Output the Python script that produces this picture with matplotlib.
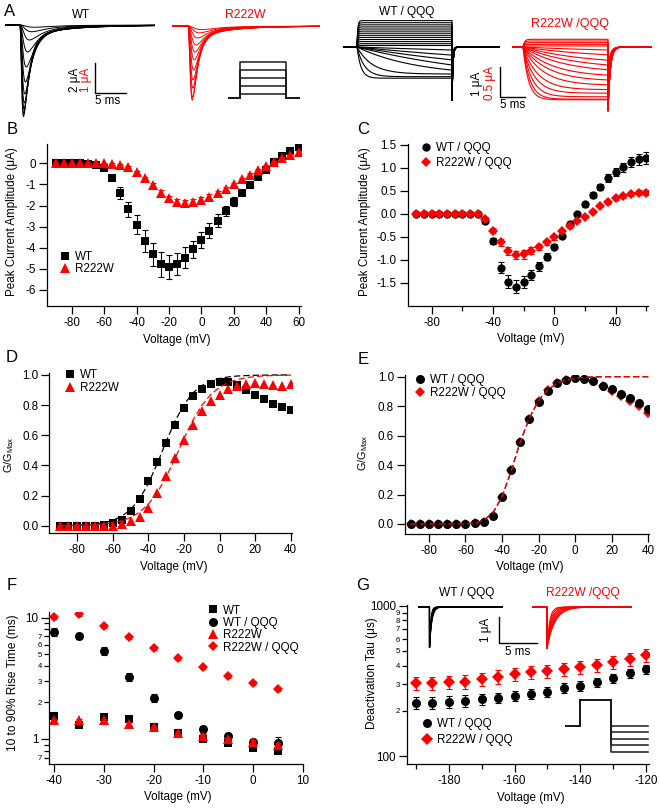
import numpy as np
import matplotlib
matplotlib.use("Agg")
import matplotlib.pyplot as plt
from matplotlib.ticker import FixedLocator, FixedFormatter

plt.rcParams['font.family'] = ['Liberation Sans', 'DejaVu Sans']
plt.rcParams['mathtext.default'] = 'regular'
plt.rcParams['axes.unicode_minus'] = False
plt.rcParams['axes.linewidth'] = 0.9

W, H = 660, 808
RED = '#ff0000'
FS = 8.4

# ---------------- data ----------------
# B / C: peak current amplitude (uA)
iv_voltage = [-90, -85, -80, -75, -70, -65, -60, -55, -50, -45, -40, -35, -30, -25, -20,
              -15, -10, -5, 0, 5, 10, 15, 20, 25, 30, 35, 40, 45, 50, 55, 60]
wt_peak = [0.0, 0.0, 0.0, 0.0, -0.03, -0.08, -0.24, -0.70, -1.39, -2.18, -2.92, -3.68, -4.31,
           -4.79, -4.90, -4.77, -4.47, -4.08, -3.65, -3.19, -2.73, -2.26, -1.82, -1.42, -1.03,
           -0.66, -0.32, 0.08, 0.36, 0.58, 0.77]
wt_peak_err = [0.02, 0.02, 0.02, 0.02, 0.03, 0.05, 0.08, 0.15, 0.28, 0.37, 0.45, 0.53, 0.55,
               0.59, 0.57, 0.54, 0.49, 0.41, 0.38, 0.36, 0.31, 0.26, 0.20, 0.15, 0.12, 0.10,
               0.08, 0.08, 0.10, 0.12, 0.14]
r222w_peak = [0.0, 0.0, 0.0, 0.0, 0.0, 0.0, 0.0, -0.03, -0.08, -0.19, -0.43, -0.71, -1.03,
              -1.39, -1.66, -1.82, -1.86, -1.82, -1.74, -1.58, -1.42, -1.22, -1.00, -0.76,
              -0.55, -0.32, -0.11, 0.08, 0.24, 0.39, 0.52]
r222w_peak_err = [0.02, 0.02, 0.02, 0.02, 0.02, 0.02, 0.02, 0.03, 0.04, 0.05, 0.06, 0.08, 0.10,
                  0.12, 0.13, 0.14, 0.14, 0.14, 0.13, 0.12, 0.11, 0.10, 0.09, 0.08, 0.07, 0.06,
                  0.05, 0.05, 0.05, 0.05, 0.05]
wtqqq_peak = [0.0, 0.0, 0.0, 0.0, 0.0, 0.0, 0.0, 0.0, 0.0, -0.15, -0.59, -1.17, -1.47, -1.58,
              -1.47, -1.33, -1.14, -0.93, -0.71, -0.48, -0.22, 0.0, 0.21, 0.41, 0.59, 0.78,
              0.91, 1.01, 1.12, 1.19, 1.22]
wtqqq_peak_err = [0.01, 0.01, 0.01, 0.01, 0.01, 0.01, 0.01, 0.01, 0.01, 0.04, 0.07, 0.12, 0.14,
                  0.14, 0.13, 0.11, 0.09, 0.08, 0.06, 0.05, 0.05, 0.05, 0.05, 0.06, 0.07, 0.08,
                  0.09, 0.10, 0.11, 0.12, 0.13]
rqqq_peak = [0.0, 0.0, 0.0, 0.0, 0.0, 0.0, 0.0, 0.0, 0.0, -0.11, -0.36, -0.62, -0.80, -0.89,
             -0.88, -0.80, -0.72, -0.62, -0.51, -0.38, -0.26, -0.15, -0.06, 0.05, 0.18, 0.25,
             0.34, 0.39, 0.43, 0.46, 0.46]
rqqq_peak_err = [0.01, 0.01, 0.01, 0.01, 0.01, 0.01, 0.01, 0.01, 0.01, 0.04, 0.06, 0.08, 0.09,
                 0.09, 0.09, 0.08, 0.07, 0.06, 0.05, 0.04, 0.04, 0.03, 0.03, 0.03, 0.03, 0.03,
                 0.04, 0.04, 0.04, 0.05, 0.05]

# D / E: normalised conductance
gv_voltage = [-90, -85, -80, -75, -70, -65, -60, -55, -50, -45, -40, -35, -30, -25, -20,
              -15, -10, -5, 0, 5, 10, 15, 20, 25, 30, 35, 40]
wt_g = [0.0, 0.0, 0.0, 0.0, 0.0, 0.003, 0.015, 0.04, 0.10, 0.18, 0.30, 0.42, 0.55, 0.67,
        0.78, 0.86, 0.91, 0.94, 0.95, 0.95, 0.935, 0.90, 0.87, 0.84, 0.81, 0.785, 0.77]
wt_g_fit = [0.001, 0.002, 0.0035, 0.006, 0.011, 0.020, 0.036, 0.063, 0.107, 0.178, 0.281,
            0.413, 0.559, 0.695, 0.804, 0.881, 0.930, 0.960, 0.977, 0.987, 0.993, 0.996,
            0.998, 0.999, 1.0, 1.0, 1.0]
r222w_g = [0.0, 0.0, 0.0, 0.0, 0.0, 0.0, 0.0, 0.01, 0.03, 0.06, 0.12, 0.22, 0.33, 0.45,
           0.57, 0.67, 0.76, 0.83, 0.87, 0.91, 0.93, 0.94, 0.945, 0.94, 0.935, 0.925, 0.94]
r222w_g_fit = [0.0009, 0.0015, 0.0025, 0.0042, 0.007, 0.012, 0.020, 0.033, 0.055, 0.090,
               0.143, 0.220, 0.324, 0.448, 0.578, 0.699, 0.797, 0.870, 0.918, 0.950, 0.970,
               0.982, 0.989, 0.994, 0.996, 0.998, 0.999]
wtqqq_g = [0.0, 0.0, 0.0, 0.0, 0.0, 0.0, 0.0, 0.005, 0.015, 0.055, 0.185, 0.365, 0.56, 0.71,
           0.83, 0.905, 0.955, 0.98, 0.99, 0.985, 0.97, 0.94, 0.915, 0.885, 0.855, 0.82, 0.78]
rqqq_g = [0.0, 0.0, 0.0, 0.0, 0.0, 0.0, 0.0, 0.005, 0.015, 0.055, 0.18, 0.365, 0.56, 0.715,
          0.835, 0.91, 0.96, 0.98, 0.99, 0.985, 0.97, 0.935, 0.905, 0.87, 0.835, 0.80, 0.755]
qqq_g_fit = [0.0, 0.0, 0.0, 0.0, 0.0, 0.0, 0.001, 0.005, 0.025, 0.075, 0.185, 0.36, 0.56,
             0.72, 0.84, 0.91, 0.955, 0.977, 0.99, 0.995, 0.998, 1.0, 1.0, 1.0, 1.0, 1.0, 1.0]

# F: 10-90% rise time (ms)
rise_voltage = [-40, -35, -30, -25, -20, -15, -10, -5, 0, 5]
rise_wt = [1.56, 1.30, 1.51, 1.45, 1.26, 1.11, 1.00, 0.92, 0.85, 0.80]
rise_wt_err = [0.12, 0.06, 0.07, 0.06, 0.04, 0.04, 0.04, 0.03, 0.03, 0.03]
rise_wtqqq = [7.67, 7.06, 5.31, 3.26, 2.17, 1.58, 1.20, 1.06, 0.95, 0.93]
rise_wtqqq_err = [0.60, 0.45, 0.40, 0.25, 0.17, 0.10, 0.07, 0.06, 0.05, 0.10]
rise_r222w = [1.43, 1.43, 1.42, 1.33, 1.25, 1.13, 1.06, 0.99, 0.95, 0.90]
rise_r222w_err = [0.04, 0.04, 0.04, 0.04, 0.04, 0.03, 0.03, 0.03, 0.03, 0.03]
rise_rqqq = [10.2, 10.7, 8.55, 6.97, 5.6, 4.62, 3.9, 3.28, 2.89, 2.57]
rise_rqqq_err = [0.4, 0.4, 0.3, 0.25, 0.2, 0.15, 0.12, 0.1, 0.09, 0.08]

# G: deactivation tau (us)
deact_voltage = [-190, -185, -180, -175, -170, -165, -160, -155, -150, -145, -140, -135,
                 -130, -125, -120]
deact_wtqqq = [226, 226, 230, 233, 238, 244, 251, 258, 268, 285, 294, 309, 329, 355, 377]
deact_wtqqq_err = [20, 20, 20, 20, 20, 20, 20, 20, 21, 22, 22, 23, 24, 25, 26]
deact_rqqq = [307, 305, 309, 312, 325, 337, 351, 360, 368, 379, 389, 403, 424, 444, 470]
deact_rqqq_err = [30, 30, 31, 32, 33, 34, 35, 36, 37, 38, 39, 40, 42, 44, 46]

# A: example sodium current families (peak uA, activation / inactivation time constants ms)
wt_na_amp = [6.1, 5.9, 5.6, 5.2, 4.6, 3.8, 2.8, 1.8, 1.0, 0.45, 0.15]
wt_na_tm = [0.22, 0.24, 0.26, 0.28, 0.31, 0.35, 0.40, 0.48, 0.60, 0.75, 0.90]
wt_na_th = [0.90, 0.95, 1.00, 1.05, 1.15, 1.30, 1.50, 1.80, 2.20, 2.70, 3.20]
r_na_amp = [2.47, 2.37, 2.07, 1.80, 1.47, 1.13, 0.87, 0.63, 0.40, 0.23, 0.12]
r_na_tm = [0.30, 0.32, 0.34, 0.36, 0.40, 0.45, 0.50, 0.58, 0.68, 0.80, 0.95]
r_na_th = [0.80, 0.85, 0.90, 0.95, 1.05, 1.15, 1.30, 1.50, 1.80, 2.20, 2.60]
step_levels_mV = [-90, -70, -50, -30, -10]
# A right: QQQ families (current at end of step uA, activation tau ms, tail uA)
wtqqq_end = [0.88, 0.81, 0.74, 0.67, 0.60, 0.53, 0.46, 0.39, 0.32, 0.25, 0.18, 0.11, 0.05,
             -0.10, -0.27, -0.43, -0.60, -0.77, -0.90, -0.99, -1.04]
wtqqq_tau = [0.15, 0.15, 0.15, 0.15, 0.15, 0.15, 0.15, 0.15, 0.15, 0.15, 0.15, 0.15, 0.15,
             60, 50, 40, 30, 12, 3, 1.5, 0.8]
wtqqq_tail = [-1.83, -1.83, -1.83, -1.83, -1.83, -1.83, -1.83, -1.83, -1.83, -1.83, -1.83,
              -1.83, -1.83, -0.6, -0.8, -1.0, -1.2, -1.45, -1.65, -1.78, -1.83]
rqqq_end = [0.128, 0.10, 0.072, 0.044, 0.017, -0.05, -0.13, -0.22, -0.30, -0.38, -0.47,
            -0.55, -0.63, -0.71, -0.77, -0.83, -0.87, -0.88]
rqqq_tau = [0.3, 0.3, 0.3, 0.3, 0.3, 20, 15, 12, 10, 8, 6, 5, 4, 3, 2.3, 1.8, 1.4, 1.1]
rqqq_tail = [-1.08, -1.08, -1.08, -1.08, -1.08, -0.35, -0.45, -0.55, -0.62, -0.70, -0.77,
             -0.83, -0.88, -0.93, -0.97, -1.00, -1.04, -1.08]
# G insets: tail current time constants (ms)
inset_wt_tau = [0.16, 0.18, 0.20, 0.22, 0.24, 0.26, 0.28, 0.30]
inset_r_tau = [0.35, 0.45, 0.55, 0.65, 0.75, 0.85, 0.95, 1.05]
inset_tail_amp = 1.58
tail_levels_mV = [-120, -137.5, -155, -172.5, -190]

# ---------------- helpers ----------------
fig = plt.figure(figsize=(6.6, 8.08), dpi=100)


def add_ax(x0, y0, x1, y1):
    return fig.add_axes([x0 / W, 1 - y1 / H, (x1 - x0) / W, (y1 - y0) / H])


def ftext(x, y, s, **kw):
    kw.setdefault('ha', 'center')
    kw.setdefault('va', 'center')
    kw.setdefault('fontsize', FS)
    fig.text(x / W, 1 - y / H, s, **kw)


def igor_axes(ax):
    ax.spines['top'].set_visible(False)
    ax.spines['right'].set_visible(False)
    ax.tick_params(which='major', direction='out', length=5.5, width=0.9, labelsize=FS, pad=2.5)
    ax.tick_params(which='minor', direction='out', length=3.5, width=0.9)
    ax.patch.set_alpha(0)


def trace_axes(x0, y0, x1, y1, xlim, ylim):
    ax = add_ax(x0, y0, x1, y1)
    ax.set_xlim(xlim)
    ax.set_ylim(ylim)
    ax.axis('off')
    return ax


def series(ax, x, y, err, marker, color, ms, label, z):
    if err is not None:
        ax.errorbar(x, y, yerr=err, fmt='none', ecolor=color, elinewidth=0.8,
                    capsize=2, capthick=0.8, zorder=z)
    ax.plot(x, y, linestyle='none', marker=marker, color=color, markersize=ms,
            markeredgewidth=0, label=label, zorder=z + 0.5)


def legend_at(ax, x, y, spacing):
    ax.legend(loc='upper left', bbox_to_anchor=(x / W, 1 - y / H), bbox_transform=fig.transFigure,
              frameon=False, fontsize=FS, handlelength=1.0, handletextpad=0.35, borderpad=0,
              borderaxespad=0, labelspacing=spacing, numpoints=1)


def na_current(t, t0, amp, tm, th):
    s = np.clip(t - t0, 0, None)
    f = (1 - np.exp(-s / tm)) ** 3 * (0.93 * np.exp(-s / th) + 0.07 * np.exp(-s / (6 * th)))
    return -amp * f / f.max()


def qqq_current(t, ton, toff, end_level, tau, tail, tail_tau):
    amp = end_level / (1 - np.exp(-(toff - ton) / tau))
    i = np.zeros_like(t)
    on = (t >= ton) & (t < toff)
    i[on] = amp * (1 - np.exp(-(t[on] - ton) / tau))
    off = t >= toff
    i[off] = tail * np.exp(-(t[off] - toff) / tail_tau)
    return i


def tail_current(t, ton, amp, tau):
    return np.where(t < ton, 0.0, -amp * np.exp(-(t - ton) / tau))


# ---------------- A ----------------
ftext(10, 11, 'A', fontsize=12)
ftext(81, 15, 'WT')
ftext(245, 15, 'R222W', color=RED, fontsize=8.8)
ftext(407, 12, 'WT / QQQ', fontsize=8.6)
ftext(570, 24, 'R222W /QQQ', color=RED, fontsize=9)

axA1 = trace_axes(5, 18, 155, 120, (0, 24.2), (-6.333, 0.467))
t = np.linspace(0, 24.2, 2000)
for amp, tm, th in zip(wt_na_amp, wt_na_tm, wt_na_th):
    axA1.plot(t, na_current(t, 2.4, amp, tm, th), color='k', lw=0.7)
axA1.plot([14.52, 14.52, 19.52], [-2.533, -4.533, -4.533], color='k', lw=1.0, clip_on=False)

axA2 = trace_axes(172, 18, 320, 120, (0, 24.0), (-3.133, 0.267))
t = np.linspace(0, 24.0, 2000)
for amp, tm, th in zip(r_na_amp, r_na_tm, r_na_th):
    axA2.plot(t, na_current(t, 2.6, amp, tm, th), color=RED, lw=0.7)

ftext(75, 80, '2 μA', rotation=90)
ftext(85.5, 80, '1 μA', rotation=90, color=RED)
ftext(108, 101, '5 ms')

axA3 = trace_axes(228, 58, 300, 102, (0, 72), (-110, 0))
for v in step_levels_mV:
    axA3.plot([0, 12, 12, 58, 58, 72], [-100, -100, v, v, -100, -100], color='#1a1a1a', lw=1.1)

axA4 = trace_axes(343, 15, 500, 112, (0, 31.4), (-2.167, 1.067))
t = np.linspace(0, 31.4, 4000)
for e, tau, tl in zip(wtqqq_end, wtqqq_tau, wtqqq_tail):
    axA4.plot(t, qqq_current(t, 2.8, 21.8, e, tau, tl, 0.18), color='k', lw=0.8)
axA4.plot([31.4, 31.4, 36.4], [-0.667, -1.667, -1.667], color='k', lw=1.0, clip_on=False)

axA5 = trace_axes(512, 15, 652, 120, (0, 28), (-1.217, 0.533))
t = np.linspace(0, 28, 4000)
for e, tau, tl in zip(rqqq_end, rqqq_tau, rqqq_tail):
    axA5.plot(t, qqq_current(t, 2.2, 19.2, e, tau, tl, 0.45), color=RED, lw=0.8)

ftext(477, 84, '1 μA', rotation=90)
ftext(490, 83, '0.5 μA', rotation=90, color=RED)
ftext(513, 105, '5 ms')

# ---------------- B ----------------
ftext(12, 130, 'B', fontsize=12)
axB = add_ax(47, 144.3, 300.5, 306)
igor_axes(axB)
series(axB, iv_voltage, wt_peak, wt_peak_err, 's', 'k', 5.6, 'WT', 2)
series(axB, iv_voltage, r222w_peak, r222w_peak_err, '^', RED, 6.8, 'R222W', 3)
axB.set_xlim(-95.25, 61.2)
axB.set_ylim(-6.76, 0.9)
axB.xaxis.set_major_locator(FixedLocator([-80, -60, -40, -20, 0, 20, 40, 60]))
axB.yaxis.set_major_locator(FixedLocator([-6, -5, -4, -3, -2, -1, 0]))
legend_at(axB, 59.2, 251.5, 0.0)
ftext(12.5, 222, 'Peak Current Amplitude (μA)', rotation=90)
ftext(177, 340, 'Voltage (mV)')

# ---------------- C ----------------
ftext(363, 130, 'C', fontsize=12)
axC = add_ax(407.7, 144.3, 648, 306)
igor_axes(axC)
series(axC, iv_voltage, wtqqq_peak, wtqqq_peak_err, 'o', 'k', 6.0, 'WT / QQQ', 2)
series(axC, iv_voltage, rqqq_peak, rqqq_peak_err, 'D', RED, 5.0, 'R222W / QQQ', 3)
axC.set_xlim(-95.7, 61.1)
axC.set_ylim(-2.0, 1.514)
axC.xaxis.set_major_locator(FixedLocator([-80, -40, 0, 40]))
axC.xaxis.set_minor_locator(FixedLocator([-60, -20, 20, 60]))
axC.yaxis.set_major_locator(FixedLocator([-1.5, -1.0, -0.5, 0.0, 0.5, 1.0, 1.5]))
axC.yaxis.set_major_formatter(FixedFormatter(['-1.5', '-1.0', '-0.5', '0.0', '0.5', '1.0', '1.5']))
legend_at(axC, 420.2, 142.5, 0.2)
ftext(365, 222, 'Peak Current Amplitude (μA)', rotation=90)
ftext(531, 339, 'Voltage (mV)')

# ---------------- D ----------------
ftext(12, 358, 'D', fontsize=12)
axD = add_ax(49.3, 373.3, 291.5, 533.3)
igor_axes(axD)
axD.plot(gv_voltage, wt_g_fit, color='k', lw=0.9, dashes=(5, 2.5), zorder=4)
axD.plot(gv_voltage, r222w_g_fit, color=RED, lw=0.9, dashes=(5, 2.5), zorder=5)
series(axD, gv_voltage, wt_g, None, 's', 'k', 5.6, 'WT', 2)
series(axD, gv_voltage, r222w_g, None, '^', RED, 6.8, 'R222W', 3)
axD.set_xlim(-95.75, 40.47)
axD.set_ylim(-0.05, 1.011)
axD.xaxis.set_major_locator(FixedLocator([-80, -60, -40, -20, 0, 20, 40]))
axD.yaxis.set_major_locator(FixedLocator([0.0, 0.2, 0.4, 0.6, 0.8, 1.0]))
axD.yaxis.set_major_formatter(FixedFormatter(['0.0', '0.2', '0.4', '0.6', '0.8', '1.0']))
legend_at(axD, 64.2, 369.5, 0.05)
ftext(9.5, 455, 'G/G$_{Max}$', rotation=90, fontsize=7.8)
ftext(174, 567, 'Voltage (mV)')

# ---------------- E ----------------
ftext(363, 359, 'E', fontsize=12)
axE = add_ax(405, 375, 649, 534)
igor_axes(axE)
axE.plot(gv_voltage, qqq_g_fit, color='k', lw=0.9, dashes=(5, 2.5), zorder=4)
series(axE, gv_voltage, wtqqq_g, None, 'o', 'k', 6.5, 'WT / QQQ', 2)
series(axE, gv_voltage, rqqq_g, None, 'D', RED, 5.2, 'R222W / QQQ', 1)
axE.plot(gv_voltage, qqq_g_fit, color=RED, lw=0.9, dashes=(5, 2.5), zorder=5)
axE.set_xlim(-93.1, 40.4)
axE.set_ylim(-0.068, 1.0115)
axE.xaxis.set_major_locator(FixedLocator([-80, -60, -40, -20, 0, 20, 40]))
axE.yaxis.set_major_locator(FixedLocator([0.0, 0.2, 0.4, 0.6, 0.8, 1.0]))
axE.yaxis.set_major_formatter(FixedFormatter(['0.0', '0.2', '0.4', '0.6', '0.8', '1.0']))
legend_at(axE, 414.2, 374.5, 0.05)
ftext(363, 453, 'G/G$_{Max}$', rotation=90, fontsize=7.8)
ftext(530, 567, 'Voltage (mV)')

# ---------------- F ----------------
ftext(11.5, 586, 'F', fontsize=12)
axF = add_ax(49.3, 611.7, 303, 764.3)
igor_axes(axF)
series(axF, rise_voltage, rise_wt, rise_wt_err, 's', 'k', 5.6, 'WT', 2)
series(axF, rise_voltage, rise_wtqqq, rise_wtqqq_err, 'o', 'k', 6.5, 'WT / QQQ', 3)
series(axF, rise_voltage, rise_r222w, rise_r222w_err, '^', RED, 7.0, 'R222W', 4)
series(axF, rise_voltage, rise_rqqq, rise_rqqq_err, 'D', RED, 5.6, 'R222W / QQQ', 5)
axF.set_yscale('log')
axF.set_xlim(-41.0, 10.06)
axF.set_ylim(0.618, 11.2)
axF.xaxis.set_major_locator(FixedLocator([-40, -30, -20, -10, 0, 10]))
axF.yaxis.set_major_locator(FixedLocator([1, 10]))
axF.yaxis.set_major_formatter(FixedFormatter(['1', '10']))
axF.yaxis.set_minor_locator(FixedLocator([0.7, 0.8, 0.9, 2, 3, 4, 5, 6, 7, 8, 9]))
axF.yaxis.set_minor_formatter(FixedFormatter(['7', '', '', '2', '3', '4', '5', '6', '7', '', '']))
axF.tick_params(axis='y', which='minor', labelsize=5.6, pad=1.5)
legend_at(axF, 207.2, 604.5, 0.03)
ftext(13, 683, '10 to 90% Rise Time (ms)', rotation=90, fontsize=8.6)
ftext(178, 797, 'Voltage (mV)')

# ---------------- G ----------------
ftext(363, 586, 'G', fontsize=12)
axG = add_ax(407, 605, 649, 764)
igor_axes(axG)
series(axG, deact_voltage, deact_wtqqq, deact_wtqqq_err, 'o', 'k', 6.5, 'WT / QQQ', 2)
series(axG, deact_voltage, deact_rqqq, deact_rqqq_err, 'D', RED, 6.0, 'R222W / QQQ', 3)
axG.set_yscale('log')
axG.set_xlim(-192.74, -119.1)
axG.set_ylim(88.5, 1011)
axG.xaxis.set_major_locator(FixedLocator([-180, -160, -140, -120]))
axG.xaxis.set_minor_locator(FixedLocator([-190, -170, -150, -130]))
axG.yaxis.set_major_locator(FixedLocator([100, 1000]))
axG.yaxis.set_major_formatter(FixedFormatter(['100', '1000']))
axG.yaxis.set_minor_locator(FixedLocator([200, 300, 400, 500, 600, 700, 800, 900]))
axG.yaxis.set_minor_formatter(FixedFormatter(['2', '3', '4', '5', '6', '7', '8', '9']))
axG.tick_params(axis='y', which='minor', labelsize=5.6, pad=1.5)
legend_at(axG, 421.2, 718.5, 0.28)
ftext(372, 673, 'Deactivation Tau (μs)', rotation=90, fontsize=8.6)
ftext(531, 798, 'Voltage (mV)')

# G insets
ftext(467, 593, 'WT / QQQ', fontsize=8.6)
ftext(583, 593, 'R222W /QQQ', color=RED, fontsize=8.6)
axG1 = trace_axes(418, 600, 503, 655, (0, 11.18), (-1.846, 0.269))
t = np.linspace(0, 11.18, 3000)
for tau in inset_wt_tau:
    axG1.plot(t, tail_current(t, 1.51, inset_tail_amp, tau), color='k', lw=0.8)
axG1.plot([10.66, 10.66, 15.66], [-0.385, -1.385, -1.385], color='k', lw=1.0, clip_on=False)
axG2 = trace_axes(532, 600, 632, 655, (0, 13.16), (-1.846, 0.269))
t = np.linspace(0, 13.16, 3000)
for tau in inset_r_tau:
    axG2.plot(t, tail_current(t, 1.97, inset_tail_amp, tau), color=RED, lw=0.8)
ftext(486, 630, '1 μA', rotation=90)
ftext(518, 652, '5 ms')

axG3 = trace_axes(565, 695, 649, 757, (0, 84), (-203.5, -36.5))
for v in tail_levels_mV:
    axG3.plot([0, 15, 15, 46, 46, 83], [-120, -120, -50, -50, v, v], color='#1a1a1a', lw=1.1)

fig.savefig('out.png', dpi=100)
